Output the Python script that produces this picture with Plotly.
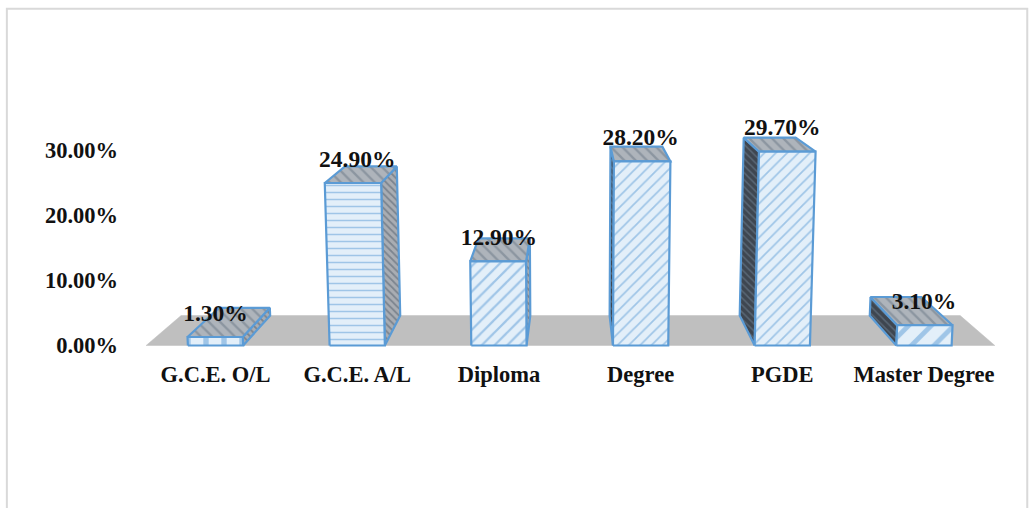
import plotly.graph_objects as go

categories = ["G.C.E. O/L", "G.C.E. A/L", "Diploma", "Degree", "PGDE", "Master Degree"]
percent_values = [1.30, 24.90, 12.90, 28.20, 29.70, 3.10]
tick_values = [0, 10, 20, 30]

# perspective set-up of the 3D look (in axis units)
HALF_W = 0.195
SCALE_BACK = 0.918
VP_X = 2.517
VP_Y = 55.9
LEAN = 0.0008
FLOOR_X = (-0.49, 5.5)

BLUE = "#5B9BD5"
FONT = "Liberation Serif"
front_shapes = ["|", "-", "/", "/", "/", "/"]
front_sizes = [18, 7, 9, 8, 8, 16]
front_solidity = [0.3, 0.22, 0.25, 0.22, 0.22, 0.3]


def front(x, v):
    return VP_X + (x - VP_X) * (1 + LEAN * v), v


def back(x, v):
    fx, fy = front(x, v)
    return VP_X + (fx - VP_X) * SCALE_BACK, VP_Y + (fy - VP_Y) * SCALE_BACK


def poly(fig, pts, pattern, line=BLUE, width=2.2):
    xs = [p[0] for p in pts] + [pts[0][0]]
    ys = [p[1] for p in pts] + [pts[0][1]]
    fig.add_trace(go.Scatter(
        x=xs, y=ys, mode="lines", fill="toself",
        fillcolor=pattern["bgcolor"] if pattern.get("shape") == "" else None,
        fillpattern=pattern,
        line=dict(color=line, width=width),
        hoverinfo="skip", showlegend=False))


fig = go.Figure()

# floor
poly(fig,
     [front(FLOOR_X[0], 0), front(FLOOR_X[1], 0), back(FLOOR_X[1], 0), back(FLOOR_X[0], 0)],
     dict(shape="", bgcolor="#BFBFBF", fgcolor="#BFBFBF"), line="#BFBFBF", width=0.5)

top_pat = dict(shape="\\", bgcolor="#AEB4BB", fgcolor="#6A7786", size=8, solidity=0.3)
right_pat = dict(shape="\\", bgcolor="#A9ADB3", fgcolor="#4F5B69", size=5, solidity=0.35)
left_pat = dict(shape="\\", bgcolor="#3E4650", fgcolor="#74879A", size=5, solidity=0.3)

for i, v in enumerate(percent_values):
    xl, xr = i - HALF_W, i + HALF_W
    # side face
    if xr < VP_X:
        poly(fig, [front(xr, 0), front(xr, v), back(xr, v), back(xr, 0)], right_pat)
    elif xl > VP_X:
        poly(fig, [front(xl, 0), front(xl, v), back(xl, v), back(xl, 0)], left_pat)
    # top face
    poly(fig, [front(xl, v), front(xr, v), back(xr, v), back(xl, v)], top_pat)
    # front face
    poly(fig, [front(xl, 0), front(xr, 0), front(xr, v), front(xl, v)],
         dict(shape=front_shapes[i], bgcolor="#E3EFF9", fgcolor=BLUE,
              size=front_sizes[i], solidity=front_solidity[i]))

# data labels
fig.add_trace(go.Scatter(
    x=list(range(len(categories))),
    y=[v + 3.4 for v in percent_values],
    mode="text",
    text=[f"{v:.2f}%" for v in percent_values],
    textposition="middle center",
    textfont=dict(family=FONT, size=23.5, color="#111111", weight="bold"),
    hoverinfo="skip", showlegend=False))

fig.update_layout(
    width=1034, height=508, autosize=False,
    paper_bgcolor="white", plot_bgcolor="rgba(0,0,0,0)",
    margin=dict(l=125, r=24, t=90.5, b=155.5),
    showlegend=False,
    xaxis=dict(
        range=[-0.639, 5.607], tickmode="array",
        tickvals=list(range(len(categories))), ticktext=categories,
        ticks="outside", ticklen=2, tickcolor="rgba(0,0,0,0)",
        showgrid=False, zeroline=False, showline=False,
        tickfont=dict(family=FONT, size=22.5, color="#111111", weight="bold")),
    yaxis=dict(
        range=[-1, 39], tickmode="array",
        tickvals=tick_values, ticktext=[f"{t:.2f}%" for t in tick_values],
        showgrid=False, zeroline=False, showline=False, ticks="",
        ticklabelstandoff=6,
        tickfont=dict(family=FONT, size=22.5, color="#111111", weight="bold")),
    shapes=[dict(type="rect", xref="paper", yref="paper", layer="below",
                 x0=-0.1335, x1=1.0195, y0=-0.9, y1=1.315,
                 line=dict(color="#D9D9D9", width=2), fillcolor="rgba(0,0,0,0)")],
)

fig.write_html("out.html", post_script="document.body.style.margin='0';",
               config={"displayModeBar": False})
